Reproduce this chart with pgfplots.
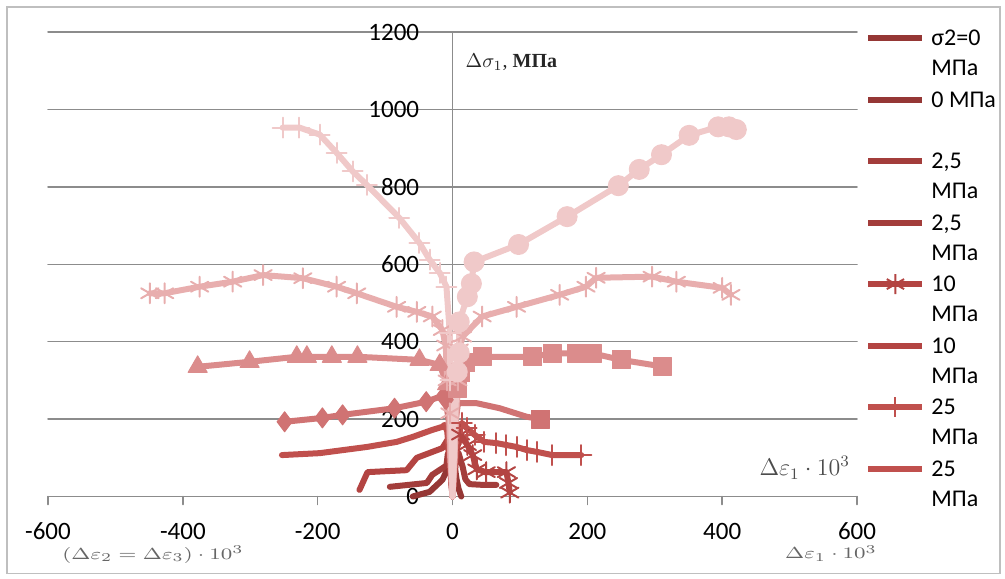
\documentclass[border=0pt]{standalone}
\usepackage{fontspec}
\setmainfont{Carlito}
\newfontfamily\tnr{Liberation Serif}
\usepackage{graphicx}
\usepackage{pgfplots}
\pgfplotsset{compat=1.18}
\definecolor{c0}{HTML}{953735}
\definecolor{c1}{HTML}{A33D3B}
\definecolor{c2}{HTML}{B34442}
\definecolor{c3}{HTML}{C0504D}
\definecolor{c4}{HTML}{D07373}
\definecolor{c5}{HTML}{DB8C8C}
\definecolor{c6}{HTML}{E8AEAE}
\definecolor{c7}{HTML}{F0C9C9}
\definecolor{axg}{HTML}{8C8C8C}
\begin{document}
\fontsize{12pt}{15pt}\selectfont
\begin{tikzpicture}
\useasboundingbox (-24pt,-40.75pt) rectangle (478.5pt,248.25pt);
\draw[black!25, line width=0.6pt] (-20.5pt,-38.5pt) rectangle (476pt,244.75pt);
\begin{axis}[
  at={(0pt,0pt)}, anchor=south west,
  scale only axis, width=404.5pt, height=232.25pt,
  xmin=-600, xmax=600, ymin=0, ymax=1200,
  axis x line=bottom, axis y line=center,
  axis line style={-, draw=axg, line width=0.75pt},
  xtick={-600,-400,...,600}, ytick={0,200,...,1200},
  hide obscured x ticks=false, hide obscured y ticks=false,
  ymajorgrids, grid style={draw=axg, line width=0.75pt},
  tick align=outside, major tick length=4pt,
  xtick style={draw=axg, line width=0.75pt},
  ytick style={draw=none},
  /pgf/number format/assume math mode=true,
  /pgf/number format/1000 sep={},
  tick label style={font=\fontsize{12.5pt}{14pt}\selectfont, black},
  xticklabel style={yshift=-5pt},
  yticklabel style={anchor=east, xshift=-8.5pt},
  clip=false,
  line cap=round, line join=round,
  every axis plot/.append style={line width=3pt},
  legend image code/.code={\draw[#1, mark indices={2}] plot coordinates {(0pt,3.9pt)(13.5pt,3.9pt)(27pt,3.9pt)};},
  legend style={at={(axis description cs:1,1)}, anchor=north west, xshift=4pt, yshift=2.25pt,
    draw=none, fill=none, inner sep=0pt, row sep=0pt, column sep=3pt,
    font=\fontsize{12pt}{15pt}\selectfont,
    cells={anchor=base west},
    nodes={inner sep=0pt, text height=9pt, text depth=21.75pt}},
]
\addplot[c0, no markers] coordinates {(0,0)(1,40)(2,75)(3,90)(4,70)(6,45)(9,20)(13,0)};
\addlegendentry{\begin{tabular}[t]{@{}l@{}}σ2=0\\МПа\end{tabular}}
\addplot[c0, no markers] coordinates {(0,0)(-1,40)(-2,75)(-4,88)(-9,65)(-15,43)(-34,12)(-59,0)};
\addlegendentry{\begin{tabular}[t]{@{}l@{}}0 МПа\\ \end{tabular}}
\addplot[c1, no markers] coordinates {(0,0)(3,50)(5,95)(9,112)(15,77)(19,45)(25,32)(45,30)(65,30)};
\addlegendentry{\begin{tabular}[t]{@{}l@{}}2,5\\МПа\end{tabular}}
\addplot[c1, no markers] coordinates {(0,0)(-2,50)(-4,95)(-7,110)(-9,80)(-30,56)(-38,35)(-93,25)};
\addlegendentry{\begin{tabular}[t]{@{}l@{}}2,5\\МПа\end{tabular}}
\addplot[c2, mark=asterisk, mark size=5pt, mark indices={4,5,6,7,8,9,10,11}, mark options={line width=1pt}] coordinates {(0,0)(3,60)(6,120)(12,160)(22,133)(30,107)(36,70)(50,63)(80,63)(83,35)(85,10)};
\addlegendentry{\begin{tabular}[t]{@{}l@{}}10\\МПа\end{tabular}}
\addplot[c2, no markers] coordinates {(0,0)(-3,60)(-6,120)(-8,145)(-15,125)(-53,100)(-68,68)(-126,63)(-138,17)};
\addlegendentry{\begin{tabular}[t]{@{}l@{}}10\\МПа\end{tabular}}
\addplot[c3, mark=+, mark size=5pt, mark indices={4,5,6,7,8,9,10,11,12,13,14}, mark options={line width=1pt}] coordinates {(0,0)(4,100)(8,170)(14,190)(21,177)(33,159)(47,141)(65,138)(80,133)(95,128)(110,120)(126,115)(148,107)(191,107)};
\addlegendentry{\begin{tabular}[t]{@{}l@{}}25\\МПа\end{tabular}}
\addplot[c3, no markers] coordinates {(0,0)(-4,100)(-8,170)(-12,185)(-15,180)(-30,172)(-59,154)(-83,141)(-127,128)(-197,112)(-253,107)};
\addlegendentry{\begin{tabular}[t]{@{}l@{}}25\\МПа\end{tabular}}
\addplot[c4, mark=diamond*, mark size=5pt, mark indices={4,5,6,7,8,9,10}, mark options={line width=0.5pt}, forget plot] coordinates {(0,0)(-3,100)(-6,200)(-10,250)(-12,262)(-39,245)(-86,228)(-163,211)(-193,203)(-249,193)};
\addplot[c4, mark=square*, mark size=4.5pt, mark indices={9}, mark options={line width=0.5pt}, forget plot] coordinates {(0,0)(3,100)(5,200)(8,240)(10,241)(36,241)(70,228)(110,206)(131,200)};
\addplot[c5, mark=triangle*, mark size=5.5pt, mark indices={4,5,6,7,8,9,10,11,12}, mark options={line width=0.5pt}, forget plot] coordinates {(0,0)(-3,100)(-5,200)(-8,290)(-19,340)(-49,353)(-141,361)(-179,361)(-216,361)(-231,361)(-301,348)(-378,335)};
\addplot[c5, mark=square*, mark size=4.5pt, mark indices={4,5,6,7,8,9,10,11,12,13}, mark options={line width=0.5pt}, forget plot] coordinates {(0,0)(3,100)(5,200)(8,280)(12,320)(20,345)(44,361)(119,361)(148,370)(184,370)(207,370)(250,353)(311,336)};
\addplot[c6, mark=asterisk, mark size=5pt, mark indices={3,4,5,6,7,8,9,10,11,12,13,14,15,16,17}, mark options={line width=1pt}, forget plot] coordinates {(0,0)(-3,100)(-4,215)(-8,300)(-10,390)(-15,430)(-30,465)(-53,477)(-83,490)(-142,525)(-172,542)(-222,564)(-281,572)(-326,555)(-375,542)(-427,525)(-449,525)};
\addplot[c6, mark=asterisk, mark size=5pt, mark indices={4,5,6,7,8,9,10,11,12,13,14,15}, mark options={line width=1pt}, forget plot] coordinates {(0,0)(3,100)(5,200)(8,300)(10,380)(15,413)(44,465)(95,490)(159,521)(198,542)(213,565)(296,568)(332,555)(400,539)(413,521)};
\addplot[c7, mark=+, mark size=5pt, mark indices={4,5,6,7,8,9,10,11,12,13,14,15,16}, mark options={line width=1pt}, forget plot] coordinates {(0,0)(-1,100)(-2,200)(-3,300)(-4,422)(-9,542)(-19,578)(-34,612)(-49,655)(-79,720)(-127,805)(-148,840)(-172,888)(-197,935)(-227,953)(-252,953)};
\addplot[c7, mark=*, mark size=5pt, mark indices={5,6,7,8,9,10,11,12,13,14,15,16,17,18,19}, mark options={line width=0.5pt}, forget plot] coordinates {(0,0)(2,100)(3,180)(5,250)(7,322)(10,371)(10,451)(22,516)(28,550)(32,606)(98,651)(170,723)(246,803)(277,845)(310,883)(351,933)(394,955)(410,955)(421,948)};
\node[anchor=west, font=\tnr\fontsize{10pt}{12pt}\selectfont, text=black!85] at (axis cs:7,1122) {$\Delta\sigma_1$, \textbf{МПа}};
\node[anchor=west, font=\tnr\fontsize{12pt}{14pt}\selectfont, text=black!70] at (axis cs:443,74) {$\Delta\varepsilon_1\cdot 10^3$};
\node[anchor=west, font=\tnr\fontsize{8.5pt}{10pt}\selectfont, text=black!60] at (axis cs:-591,-150) {\scalebox{1.35}[1]{$(\Delta\varepsilon_2=\Delta\varepsilon_3)\cdot 10^3$}};
\node[anchor=west, font=\tnr\fontsize{8.5pt}{10pt}\selectfont, text=black!60] at (axis cs:481,-147) {\scalebox{1.35}[1]{$\Delta\varepsilon_1\cdot 10^3$}};
\end{axis}
\end{tikzpicture}
\end{document}
